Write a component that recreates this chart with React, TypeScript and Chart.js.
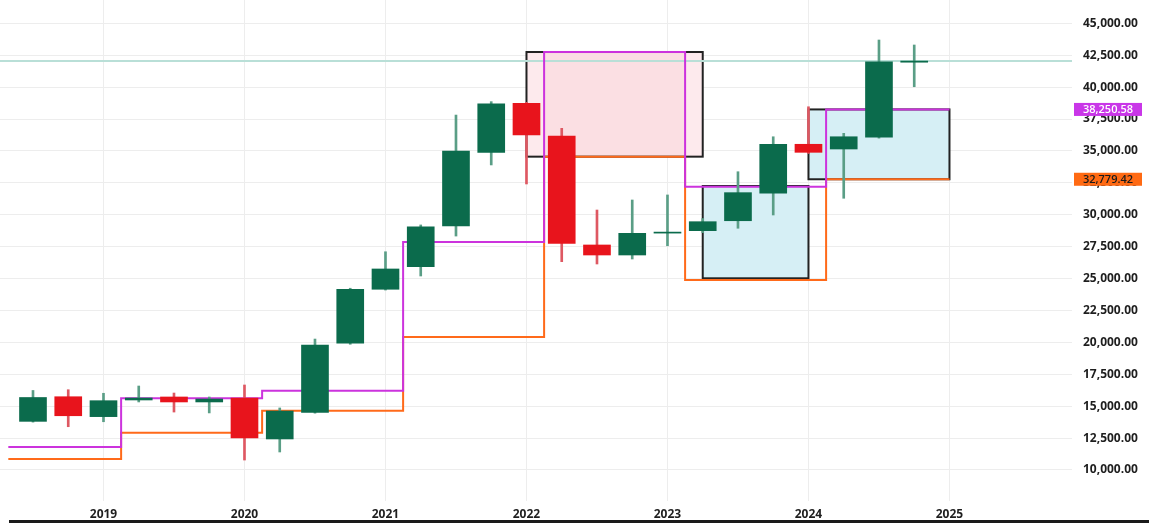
import React, { useEffect, useRef } from 'react';
import Chart from 'chart.js/auto';

// Quarterly candles (x = year + quarter offset, Q1 at the integer year)
const QUARTERS = [
  2018.5, 2018.75, 2019.0, 2019.25, 2019.5, 2019.75, 2020.0, 2020.25, 2020.5, 2020.75,
  2021.0, 2021.25, 2021.5, 2021.75, 2022.0, 2022.25, 2022.5, 2022.75, 2023.0, 2023.25,
  2023.5, 2023.75, 2024.0, 2024.25, 2024.5, 2024.75,
];
const OPEN = [
  13810, 15740, 14180, 15485, 15720, 15330, 15640, 12430, 14520, 19930,
  24160, 25930, 29120, 34890, 38730, 36170, 27630, 26845, 28560, 28750,
  29530, 31680, 35520, 35150, 36070, 41950,
];
const HIGH = [
  16230, 16290, 16010, 16580, 16030, 15720, 16660, 14860, 20260, 24240,
  27100, 29200, 37810, 38860, 38800, 36770, 30370, 31155, 31550, 29700,
  33370, 36110, 38460, 36380, 43690, 43300,
];
const LOW = [
  13750, 13390, 13780, 15330, 14540, 14470, 10780, 11410, 14450, 19850,
  24100, 25200, 28330, 33900, 32410, 26320, 26140, 26530, 27570, 28600,
  28940, 29980, 34800, 31290, 36000, 40030,
];
const CLOSE = [
  15680, 14250, 15430, 15640, 15330, 15560, 12510, 14620, 19790, 24160,
  25750, 29060, 34990, 38680, 36250, 27760, 26845, 28545, 28640, 29455,
  31730, 35520, 34890, 36110, 41990, 42040,
];

// Yearly high / low step levels
const STEP_X = [2018.325, 2019.125, 2020.125, 2021.125, 2022.125, 2023.125, 2024.125, 2025.0];
const HIGH_LEVEL = [11800, 15620, 16210, 27860, 42750, 32200, 38250.58, 38250.58];
const LOW_LEVEL = [10860, 12920, 14650, 20420, 34550, 24890, 32779.42, 32779.42];

// Range boxes
const BOX_START = [2022.0, 2022.125, 2023.25, 2024.0];
const BOX_END = [2023.25, 2023.125, 2024.0, 2025.0];
const BOX_HIGH = [42750, 42750, 32250, 38250.58];
const BOX_LOW = [34550, 34550, 25020, 32779.42];
const BOX_KIND = ['bear', 'bearInner', 'bull', 'bull'];

const CURRENT_PRICE = 42045;
const LAST_HIGH_LABEL = 38250.58;
const LAST_LOW_LABEL = 32779.42;

const YEAR_TICKS = [2019, 2020, 2021, 2022, 2023, 2024, 2025];
const PRICE_TICKS = [10000, 12500, 15000, 17500, 20000, 22500, 25000, 27500, 30000, 32500, 35000, 37500, 40000, 42500, 45000];

const X_MIN = 2018.266;
const X_MAX = 2025.869;
const Y_MIN = 7570;
const Y_MAX = 46825;

const UP = '#0b6b4c';
const DOWN = '#e8141c';
const UP_WICK = '#5a9e86';
const DOWN_WICK = '#de5862';
const MAGENTA = '#cc33dd';
const ORANGE = '#ff6a1a';

const fmt = (v: number) =>
  v.toLocaleString('en-US', { minimumFractionDigits: 2, maximumFractionDigits: 2 });

const BOX_STYLE: Record<string, { fill: string; border: boolean }> = {
  bear: { fill: '#fdeaed', border: true },
  bearInner: { fill: '#fbdfe3', border: false },
  bull: { fill: '#d6eff5', border: true },
};

const noPad = (axis: any) => {
  axis.paddingTop = 0;
  axis.paddingBottom = 0;
  axis.paddingLeft = 0;
  axis.paddingRight = 0;
};

export default function App() {
  const ref = useRef<HTMLCanvasElement | null>(null);

  useEffect(() => {
    if (!ref.current) return;
    const up = QUARTERS.map((_, i) => CLOSE[i] >= OPEN[i]);

    const boxesPlugin = {
      id: 'boxes',
      beforeDatasetsDraw(chart: any) {
        const { ctx, scales } = chart;
        const xs = scales.x, ys = scales.y;
        ctx.save();
        BOX_START.forEach((s, i) => {
          const st = BOX_STYLE[BOX_KIND[i]];
          const x0 = xs.getPixelForValue(s);
          const x1 = xs.getPixelForValue(BOX_END[i]);
          const y0 = ys.getPixelForValue(BOX_HIGH[i]);
          const y1 = ys.getPixelForValue(BOX_LOW[i]);
          ctx.fillStyle = st.fill;
          ctx.fillRect(x0, y0, x1 - x0, y1 - y0);
        });
        BOX_START.forEach((s, i) => {
          const st = BOX_STYLE[BOX_KIND[i]];
          if (!st.border) return;
          const x0 = xs.getPixelForValue(s);
          const x1 = xs.getPixelForValue(BOX_END[i]);
          const y0 = ys.getPixelForValue(BOX_HIGH[i]);
          const y1 = ys.getPixelForValue(BOX_LOW[i]);
          ctx.strokeStyle = '#222222';
          ctx.lineWidth = 2;
          ctx.strokeRect(x0, y0, x1 - x0, y1 - y0);
        });
        ctx.restore();
      },
      afterDraw(chart: any) {
        const { ctx, scales, chartArea } = chart;
        const ys = scales.y;
        ctx.save();
        const labels = [
          { v: LAST_HIGH_LABEL, bg: '#c936e8', fg: '#ffffff' },
          { v: LAST_LOW_LABEL, bg: '#ff6a13', fg: '#1a1a1a' },
        ];
        ctx.font = '600 11px "Open Sans"';
        ctx.textAlign = 'center';
        ctx.textBaseline = 'middle';
        labels.forEach((l) => {
          const y = ys.getPixelForValue(l.v);
          const x0 = chartArea.right + 2;
          const w = 68;
          ctx.fillStyle = l.bg;
          ctx.fillRect(x0, y - 6.5, w, 13);
          ctx.fillStyle = l.fg;
          ctx.fillText(fmt(l.v), x0 + w / 2, y + 0.5);
        });
        // bottom rule under the time axis
        ctx.strokeStyle = '#1a1a1a';
        ctx.lineWidth = 3;
        ctx.beginPath();
        ctx.moveTo(9, chart.height - 3.5);
        ctx.lineTo(chart.width, chart.height - 3.5);
        ctx.stroke();
        ctx.restore();
      },
    };

    const chart = new Chart(ref.current, {
      type: 'bar',
      data: {
        datasets: [
          {
            type: 'bar',
            label: 'body',
            data: QUARTERS.map((x, i) => ({ x, y: [OPEN[i], CLOSE[i]] })) as any,
            backgroundColor: up.map((u) => (u ? UP : DOWN)),
            barThickness: 27,
            grouped: false,
            borderWidth: 0,
            order: 0,
          } as any,
          {
            type: 'bar',
            label: 'wick',
            data: QUARTERS.map((x, i) => ({ x, y: [LOW[i], HIGH[i]] })) as any,
            backgroundColor: up.map((u) => (u ? UP_WICK : DOWN_WICK)),
            barThickness: 2,
            grouped: false,
            borderWidth: 0,
            order: 1,
          } as any,
          {
            type: 'line',
            label: 'high',
            data: STEP_X.map((x, i) => ({ x, y: HIGH_LEVEL[i] })),
            borderColor: MAGENTA,
            borderWidth: 2,
            stepped: true,
            pointRadius: 0,
            fill: false,
            order: 2,
          } as any,
          {
            type: 'line',
            label: 'low',
            data: STEP_X.map((x, i) => ({ x, y: LOW_LEVEL[i] })),
            borderColor: ORANGE,
            borderWidth: 2,
            stepped: true,
            pointRadius: 0,
            fill: false,
            order: 3,
          } as any,
          {
            type: 'line',
            label: 'price',
            data: [
              { x: X_MIN, y: CURRENT_PRICE },
              { x: X_MAX, y: CURRENT_PRICE },
            ],
            borderColor: '#b9dfd7',
            borderWidth: 2,
            pointRadius: 0,
            fill: false,
            order: 4,
          } as any,
        ],
      },
      options: {
        animation: false,
        responsive: false,
        devicePixelRatio: 1,
        layout: { padding: 0 },
        plugins: {
          legend: { display: false },
          tooltip: { enabled: false },
        },
        scales: {
          x: {
            type: 'linear',
            min: X_MIN,
            max: X_MAX,
            offset: false,
            position: 'bottom',
            afterBuildTicks: (axis: any) => {
              axis.ticks = YEAR_TICKS.map((v) => ({ value: v }));
            },
            afterFit: (axis: any) => {
              axis.height = 24;
              noPad(axis);
            },
            ticks: {
              callback: (v: any) => String(v),
              color: '#1e1e1e',
              font: { family: 'Open Sans', size: 12, weight: 'bold' },
              padding: 6,
              maxRotation: 0,
              autoSkip: false,
            },
            grid: { color: '#ededed', drawTicks: false, offset: false },
            border: { display: false },
          },
          y: {
            type: 'linear',
            position: 'right',
            min: Y_MIN,
            max: Y_MAX,
            afterBuildTicks: (axis: any) => {
              axis.ticks = PRICE_TICKS.map((v) => ({ value: v }));
            },
            afterFit: (axis: any) => {
              axis.width = 77;
              noPad(axis);
            },
            ticks: {
              callback: (v: any) => fmt(Number(v)),
              color: '#1e1e1e',
              font: { family: 'Open Sans', size: 12, weight: 'bold' },
              padding: 11,
            },
            grid: { color: '#ededed', drawTicks: false },
            border: { display: false },
          },
        },
      } as any,
      plugins: [boxesPlugin],
    });
    return () => chart.destroy();
  }, []);

  return (
    <div style={{ position: 'fixed', left: 0, top: 0, width: 1149, height: 525, background: '#ffffff' }}>
      <canvas ref={ref} width={1149} height={525} style={{ display: 'block' }} />
    </div>
  );
}
